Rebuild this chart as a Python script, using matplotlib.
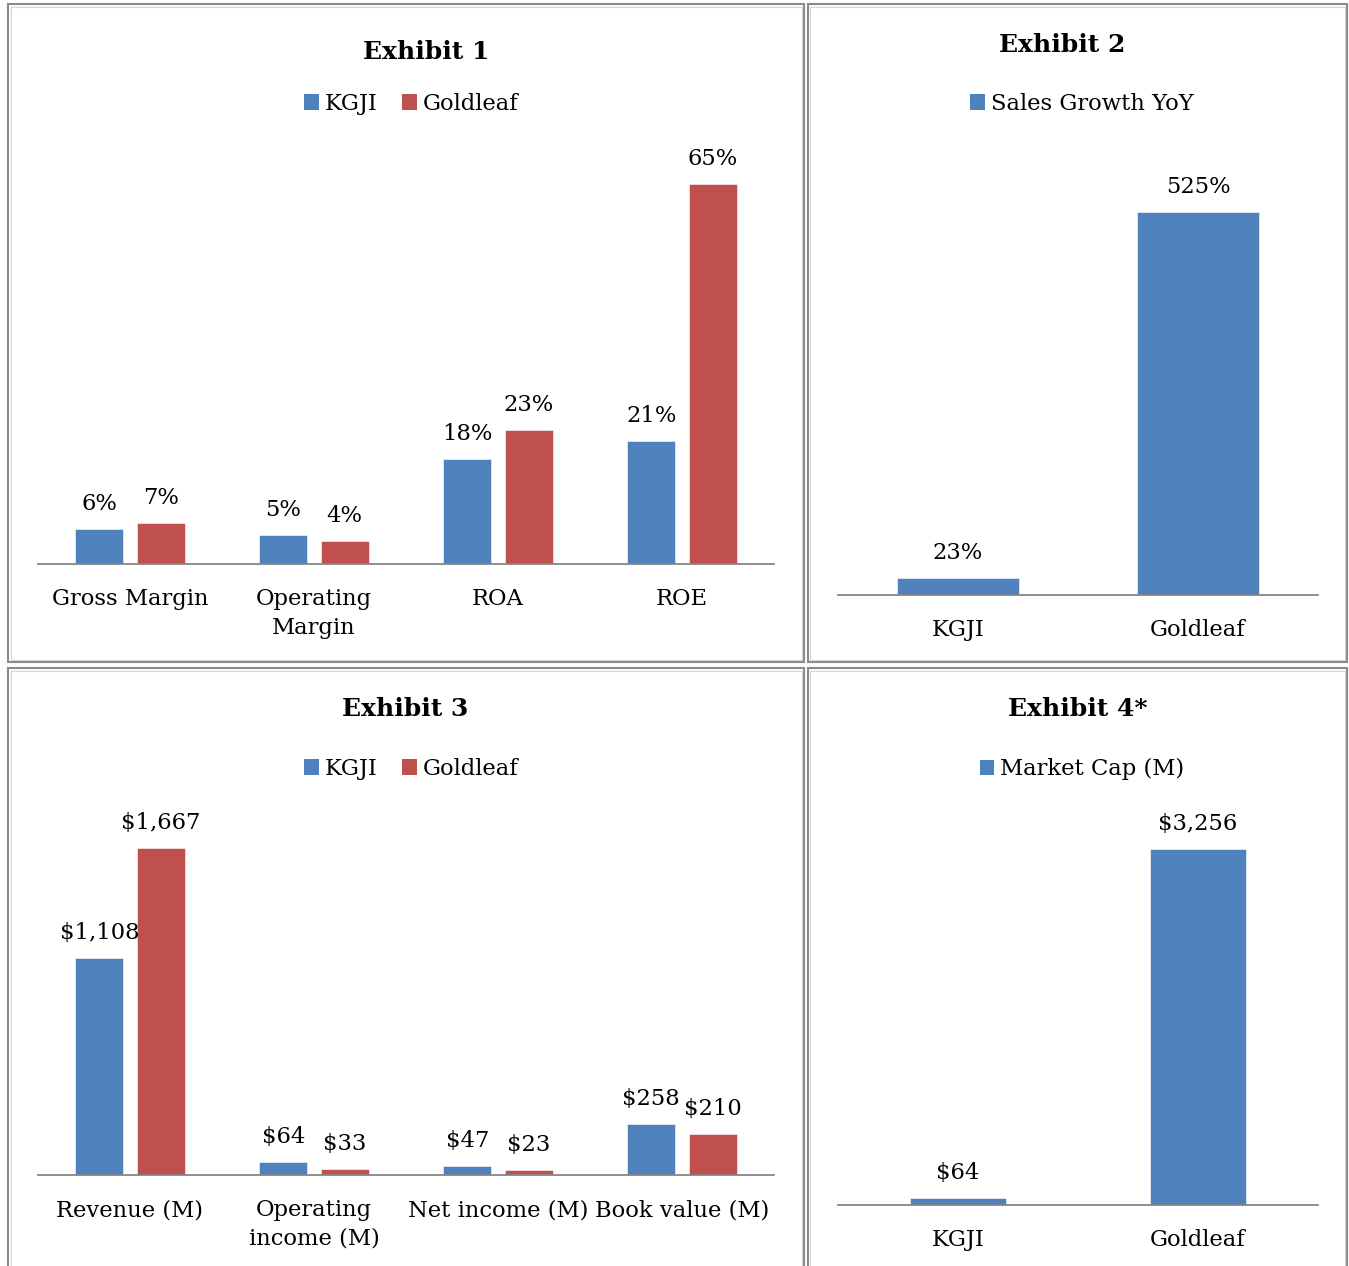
import matplotlib
matplotlib.use('Agg')
import numpy as np
import matplotlib.pyplot as plt
from matplotlib.patches import Rectangle, Patch

# Chart data
ex1_categories = ['Gross Margin', 'Operating\nMargin', 'ROA', 'ROE']
ex1_kgji = [6, 5, 18, 21]
ex1_goldleaf = [7, 4, 23, 65]

ex2_categories = ['KGJI', 'Goldleaf']
ex2_sales_growth = [23, 525]

ex3_categories = ['Revenue (M)', 'Operating\nincome (M)', 'Net income (M)', 'Book value (M)']
ex3_kgji = [1108, 64, 47, 258]
ex3_goldleaf = [1667, 33, 23, 210]

ex4_categories = ['KGJI', 'Goldleaf']
ex4_market_cap = [64, 3256]

W, H = 1349, 1266
blue = '#4F81BD'
red = '#C0504D'
axis_grey = '#868686'
font = 'DejaVu Serif'
fs = 16.3

plt.rcParams['font.family'] = font

fig = plt.figure(figsize=(W / 100, H / 100), dpi=100)


def px_axes(left, top, right, bottom):
    # pixel box -> figure fraction axes
    return fig.add_axes([left / W, 1 - bottom / H, (right - left) / W, (bottom - top) / H])


def style(ax, cats, ymax, pad):
    ax.set_ylim(0, ymax)
    ax.set_xlim(-0.5, len(cats) - 0.5)
    for s in ['left', 'right', 'top']:
        ax.spines[s].set_visible(False)
    ax.spines['bottom'].set_color(axis_grey)
    ax.spines['bottom'].set_linewidth(1.3)
    ax.set_yticks([])
    ax.set_xticks(range(len(cats)))
    ax.set_xticklabels(cats, fontsize=fs, linespacing=1.38)
    ax.tick_params(axis='x', length=0, pad=pad)
    ax.patch.set_alpha(0)


def labels(ax, bars, vals, fmt):
    for b, v in zip(bars, vals):
        ax.annotate(fmt.format(v), (b.get_x() + b.get_width() / 2, b.get_height()),
                    xytext=(0, 18), textcoords='offset points',
                    ha='center', va='center', fontsize=fs)


def frame(left, top, right, bottom):
    fig.add_artist(Rectangle((left / W, 1 - bottom / H), (right - left) / W, (bottom - top) / H,
                             transform=fig.transFigure, fill=False,
                             edgecolor='#8a8a8a', linewidth=1.5))
    fig.add_artist(Rectangle(((left + 2.5) / W, 1 - (bottom - 2.5) / H),
                             (right - left - 5) / W, (bottom - top - 5) / H,
                             transform=fig.transFigure, fill=False,
                             edgecolor='#d4d4d4', linewidth=0.8))


def legend(names, colors, cx, cy):
    handles = [Patch(facecolor=c, edgecolor='none') for c in colors]
    fig.legend(handles, names, loc='center', bbox_to_anchor=(cx / W, 1 - cy / H),
               ncol=len(names), frameon=False, fontsize=fs, handlelength=0.65,
               handleheight=0.65, handletextpad=0.25, columnspacing=1.1,
               borderpad=0, borderaxespad=0)


frame(8, 4, 804, 662)
frame(808, 4, 1347, 662)
frame(8, 668, 804, 1272)
frame(808, 668, 1347, 1272)

bw = 0.26
off = 0.167

# Exhibit 1
ax1 = px_axes(38, 155, 774, 564)
x = np.arange(len(ex1_categories))
b1 = ax1.bar(x - off, ex1_kgji, bw, color=blue, edgecolor='white', linewidth=0.4)
b2 = ax1.bar(x + off, ex1_goldleaf, bw, color=red, edgecolor='white', linewidth=0.4)
style(ax1, ex1_categories, 70, 17.5)
labels(ax1, b1, ex1_kgji, '{:.0f}%')
labels(ax1, b2, ex1_goldleaf, '{:.0f}%')
fig.text(426 / W, 1 - 52 / H, 'Exhibit 1', ha='center', va='center', fontsize=18, fontweight='bold')
legend(['KGJI', 'Goldleaf'], [blue, red], 411, 104)

# Exhibit 2
ax2 = px_axes(838, 157, 1318, 595)
x = np.arange(len(ex2_categories))
b = ax2.bar(x, ex2_sales_growth, 0.51, color=blue, edgecolor='white', linewidth=0.4)
style(ax2, ex2_categories, 600, 17.5)
labels(ax2, b, ex2_sales_growth, '{:.0f}%')
fig.text(1062 / W, 1 - 45 / H, 'Exhibit 2', ha='center', va='center', fontsize=18, fontweight='bold')
legend(['Sales Growth YoY'], [blue], 1082, 104)

# Exhibit 3
ax3 = px_axes(38, 822, 774, 1175)
x = np.arange(len(ex3_categories))
b1 = ax3.bar(x - off, ex3_kgji, bw, color=blue, edgecolor='white', linewidth=0.4)
b2 = ax3.bar(x + off, ex3_goldleaf, bw, color=red, edgecolor='white', linewidth=0.4)
style(ax3, ex3_categories, 1800, 17.5)
labels(ax3, b1, ex3_kgji, '${:,.0f}')
labels(ax3, b2, ex3_goldleaf, '${:,.0f}')
fig.text(405 / W, 1 - 709 / H, 'Exhibit 3', ha='center', va='center', fontsize=18, fontweight='bold')
legend(['KGJI', 'Goldleaf'], [blue, red], 411, 769)

# Exhibit 4
ax4 = px_axes(838, 822, 1318, 1205)
x = np.arange(len(ex4_categories))
b = ax4.bar(x, ex4_market_cap, 0.4, color=blue, edgecolor='white', linewidth=0.4)
style(ax4, ex4_categories, 3500, 17.5)
labels(ax4, b, ex4_market_cap, '${:,.0f}')
fig.text(1078 / W, 1 - 709 / H, 'Exhibit 4*', ha='center', va='center', fontsize=18, fontweight='bold')
legend(['Market Cap (M)'], [blue], 1082, 769)

fig.savefig('out.png', dpi=100)
